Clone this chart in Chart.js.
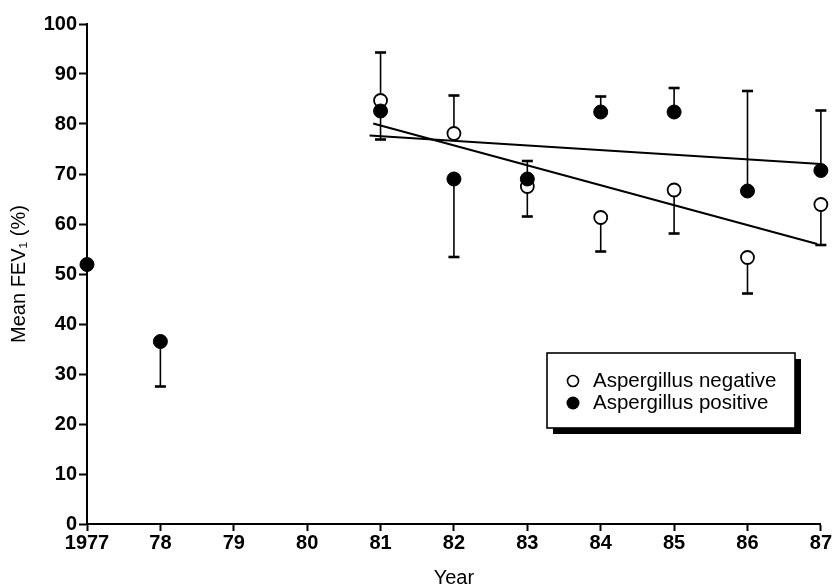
<!DOCTYPE html>
<html>
<head>
<meta charset="utf-8">
<script src="https://cdn.jsdelivr.net/npm/chart.js@4"></script>
<style>
  html, body { margin: 0; padding: 0; background: #fff; }
  #wrap { width: 832px; height: 588px; position: relative; }
</style>
</head>
<body>
<div id="wrap"><canvas id="c"></canvas></div>
<script>
// ---- Data ----
const years = [1977, 1978, 1979, 1980, 1981, 1982, 1983, 1984, 1985, 1986, 1987];
const xTickLabels = ['1977', '78', '79', '80', '81', '82', '83', '84', '85', '86', '87'];
const yTicks = [0, 10, 20, 30, 40, 50, 60, 70, 80, 90, 100];

// Aspergillus negative (open circles): mean FEV1 and end of the one-sided SD bar
const negMean   = [null, null, null, null, 84.7, 78.1, 67.5, 61.3, 66.8, 53.3, 63.9];
const negErrEnd = [null, null, null, null, 94.3, 85.7, 61.5, 54.5, 58.1, 46.1, 55.8];

// Aspergillus positive (filled circles)
const posMean   = [51.9, 36.5, null, null, 82.6, 69.0, 69.0, 82.4, 82.4, 66.6, 70.7];
const posErrEnd = [null, 27.5, null, null, 76.9, 53.4, 72.6, 85.5, 87.2, 86.6, 82.7];

// Regression lines (end points)
const negFitX = [1980.9, 1986.95];
const negFitY = [80.1, 56.0];
const posFitX = [1980.85, 1987.0];
const posFitY = [77.7, 72.0];

const labelNeg = 'Aspergillus negative';
const labelPos = 'Aspergillus positive';

// ---- helpers ----
const toPts = (xs, ys) => xs.map((v, i) => (ys[i] == null ? null : { x: v, y: ys[i] })).filter(Boolean);
const FONT = '"Liberation Sans", Arial, Helvetica, sans-serif';

const errorBars = {
  id: 'errorBars',
  beforeDatasetsDraw(chart) {
    const { ctx, scales: { x, y } } = chart;
    ctx.save();
    ctx.strokeStyle = '#000';
    const draw = (means, ends) => {
      years.forEach((yr, i) => {
        if (means[i] == null || ends[i] == null) return;
        const px = x.getPixelForValue(yr);
        const p0 = y.getPixelForValue(means[i]);
        const p1 = y.getPixelForValue(ends[i]);
        ctx.lineWidth = 1.6;
        ctx.beginPath(); ctx.moveTo(px, p0); ctx.lineTo(px, p1); ctx.stroke();
        ctx.lineWidth = 2.6;
        ctx.beginPath(); ctx.moveTo(px - 5.5, p1); ctx.lineTo(px + 5.5, p1); ctx.stroke();
      });
    };
    draw(negMean, negErrEnd);
    draw(posMean, posErrEnd);
    ctx.restore();
  }
};

const boxLegend = {
  id: 'boxLegend',
  afterDraw(chart) {
    const { ctx } = chart;
    const bx = 547, by = 353, bw = 248, bh = 75, sh = 6;
    ctx.save();
    ctx.fillStyle = '#000';
    ctx.fillRect(bx + sh, by + sh, bw, bh);
    ctx.fillStyle = '#fff';
    ctx.fillRect(bx, by, bw, bh);
    ctx.strokeStyle = '#000';
    ctx.lineWidth = 1.6;
    ctx.strokeRect(bx, by, bw, bh);
    // markers
    ctx.beginPath(); ctx.arc(bx + 26, by + 28, 5.5, 0, Math.PI * 2);
    ctx.fillStyle = '#fff'; ctx.fill(); ctx.lineWidth = 1.6; ctx.stroke();
    ctx.beginPath(); ctx.arc(bx + 26, by + 50, 6.5, 0, Math.PI * 2);
    ctx.fillStyle = '#000'; ctx.fill();
    // text
    ctx.fillStyle = '#000';
    ctx.font = '20.5px ' + FONT;
    ctx.textBaseline = 'middle';
    ctx.textAlign = 'left';
    ctx.fillText(labelNeg, bx + 46, by + 28);
    ctx.fillText(labelPos, bx + 46, by + 50);
    ctx.restore();
  }
};

new Chart(document.getElementById('c'), {
  type: 'scatter',
  data: {
    datasets: [
      {
        label: labelPos,
        data: toPts(years, posMean),
        pointRadius: 7, pointHoverRadius: 7,
        backgroundColor: '#000', borderColor: '#000', borderWidth: 1,
        showLine: false, clip: false
      },
      {
        label: labelNeg,
        data: toPts(years, negMean),
        pointRadius: 6.5, pointHoverRadius: 6.5,
        backgroundColor: '#fff', borderColor: '#000', borderWidth: 1.8,
        showLine: false, clip: false
      },
      {
        label: 'fit positive',
        data: toPts(posFitX, posFitY),
        showLine: true, pointRadius: 0, borderColor: '#000', borderWidth: 2.2, fill: false, clip: false
      },
      {
        label: 'fit negative',
        data: toPts(negFitX, negFitY),
        showLine: true, pointRadius: 0, borderColor: '#000', borderWidth: 2.2, fill: false, clip: false
      }
    ]
  },
  options: {
    responsive: true,
    maintainAspectRatio: false,
    animation: false,
    devicePixelRatio: 1,
    layout: { padding: { top: 24, right: 9, bottom: 0, left: 0 } },
    plugins: {
      legend: { display: false },
      tooltip: { enabled: false },
      title: { display: false }
    },
    scales: {
      x: {
        type: 'linear',
        min: years[0], max: years[years.length - 1],
        afterBuildTicks: (s) => { s.ticks = years.map(v => ({ value: v })); },
        ticks: {
          autoSkip: false, maxRotation: 0, padding: 0, color: '#000',
          font: { family: FONT, size: 20, weight: 'bold' },
          callback: (v) => xTickLabels[years.indexOf(v)]
        },
        grid: { drawOnChartArea: false, drawTicks: true, tickLength: 7, tickWidth: 2, tickColor: '#000' },
        border: { display: true, color: '#000', width: 2 },
        title: {
          display: true, text: 'Year', color: '#000',
          font: { family: FONT, size: 20, lineHeight: 1 },
          padding: { top: 0, bottom: 0 }
        },
        afterFit: (s) => { s.height = 64; }
      },
      y: {
        min: yTicks[0], max: yTicks[yTicks.length - 1],
        afterBuildTicks: (s) => { s.ticks = yTicks.map(v => ({ value: v })); },
        ticks: {
          padding: 2, color: '#000',
          font: { family: FONT, size: 20, weight: 'bold' }
        },
        grid: { drawOnChartArea: false, drawTicks: true, tickLength: 8, tickWidth: 2, tickColor: '#000' },
        border: { display: true, color: '#000', width: 2 },
        title: {
          display: true, text: 'Mean FEV\u2081 (%)', color: '#000',
          font: { family: FONT, size: 20 },
          padding: { top: 7, bottom: 0 }
        },
        afterFit: (s) => { s.width = 87; }
      }
    }
  },
  plugins: [errorBars, boxLegend]
});
</script>
</body>
</html>
